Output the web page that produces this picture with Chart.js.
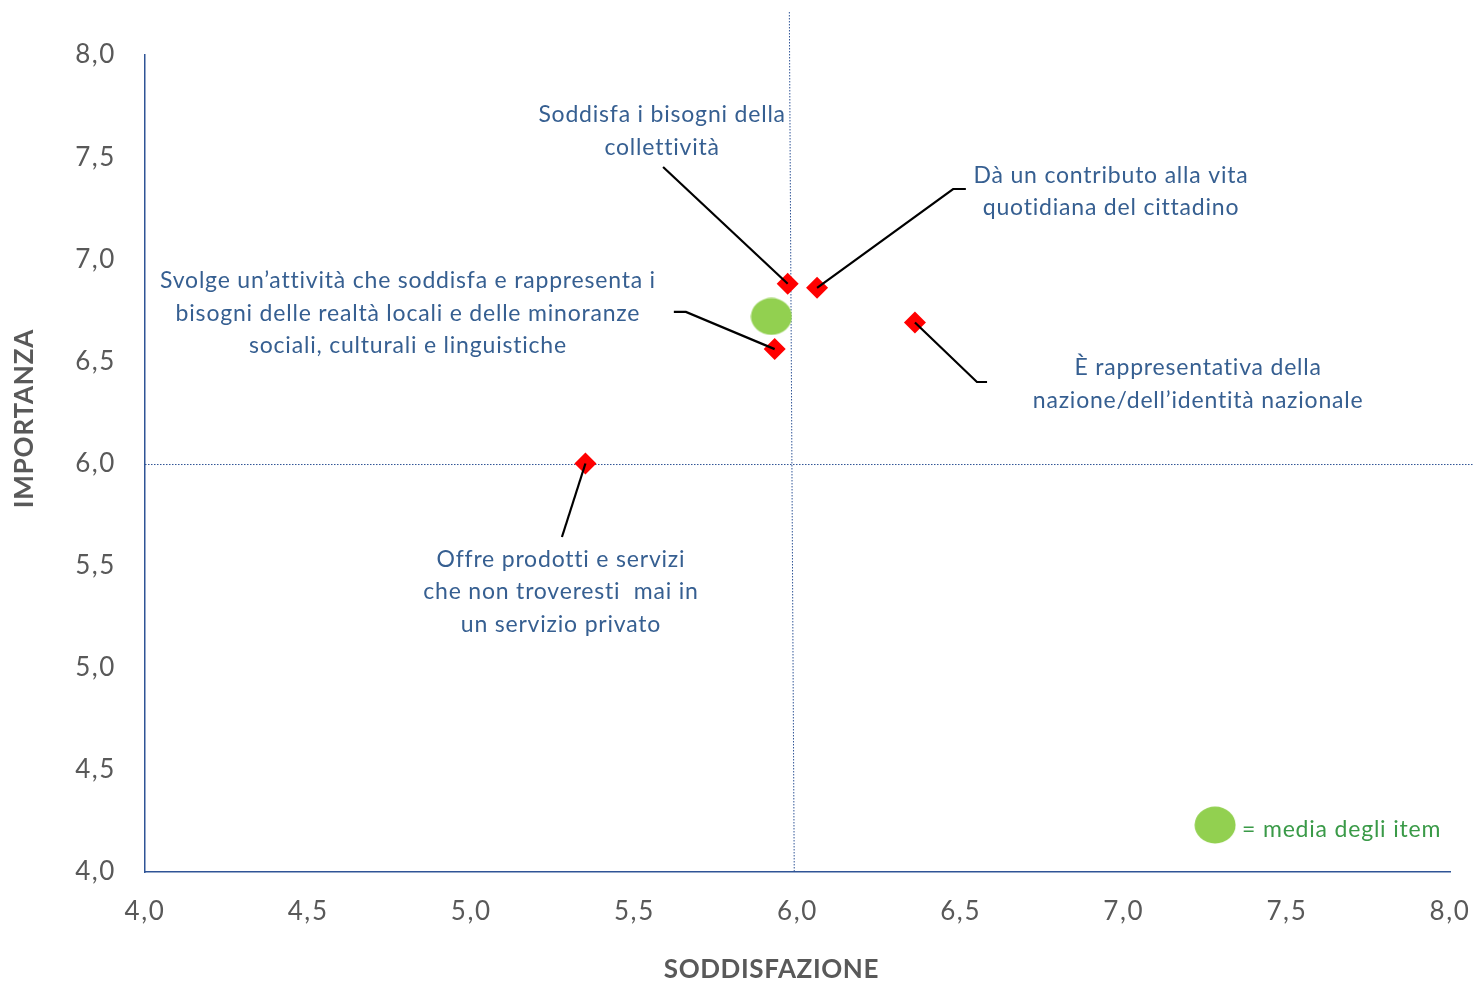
<!DOCTYPE html>
<html>
<head>
<meta charset="utf-8">
<script src="https://cdn.jsdelivr.net/npm/chart.js@4.4.0/dist/chart.umd.min.js"></script>
<style>
  html, body { margin: 0; padding: 0; background: #fff; }
  #wrap { width: 1474px; height: 981px; }
</style>
</head>
<body>
<div id="wrap"><canvas id="chart"></canvas></div>
<script>
// Item labels (one array of lines per item)
const itemLabels = [
  ["Soddisfa i bisogni della", "collettività"],
  ["Dà un contributo alla vita", "quotidiana del cittadino"],
  ["È rappresentativa della", "nazione/dell’identità nazionale"],
  ["Svolge un’attività che soddisfa e rappresenta i", "bisogni delle realtà locali e delle minoranze", "sociali, culturali e linguistiche"],
  ["Offre prodotti e servizi", "che non troveresti  mai in", "un servizio privato"],
];
// values
const soddisfazione = [5.97, 6.06, 6.36, 5.93, 5.35];
const importanza = [6.88, 6.86, 6.69, 6.56, 6.00];
const mediaX = [5.92];
const mediaY = [6.72];
const tickValues = [4.0, 4.5, 5.0, 5.5, 6.0, 6.5, 7.0, 7.5, 8.0];
const refX = 5.99;
const refY = 5.995;

// annotation anchors (data units): label centre / first line, leader elbows
const labelX = [5.585, 6.961, 7.228, 4.806, 5.275];
const labelY = [7.706, 7.412, 6.468, 6.894, 5.532];
const leaderPaths = [
  [[5.588, 7.452]],
  [[6.516, 7.344], [6.477, 7.344]],
  [[6.581, 6.399], [6.550, 6.399]],
  [[5.621, 6.742], [5.658, 6.742]],
  [[5.278, 5.640]],
];

const FONT = "Lato, 'Open Sans', sans-serif";
const BLUE = "#2F5496";
const TEXT_BLUE = "#365F91";
const GRAY = "#595959";

// ellipse marker for the mean
const ell = document.createElement("canvas");
ell.width = 42; ell.height = 38;
const ec = ell.getContext("2d");
ec.fillStyle = "#92D050";
ec.beginPath();
ec.ellipse(21, 19, 20.5, 18.5, 0, 0, Math.PI * 2);
ec.fill();

const fmt = (v) => v.toFixed(1).replace(".", ",");

const overlay = {
  id: "overlay",
  beforeDraw(chart) {
    // wider spacing for the tick labels (Calibri-like width)
    chart.ctx.letterSpacing = "1.6px";
  },
  beforeDatasetsDraw(chart) {
    const { ctx, scales: { x, y } } = chart;
    ctx.save();
    ctx.strokeStyle = BLUE;
    ctx.lineWidth = 1;
    ctx.setLineDash([1.5, 1.5]);
    ctx.beginPath();
    ctx.moveTo(x.getPixelForValue(refX - 0.015), 12);
    ctx.lineTo(x.getPixelForValue(refX), y.getPixelForValue(4));
    ctx.moveTo(x.getPixelForValue(4), y.getPixelForValue(refY));
    ctx.lineTo(chart.width, y.getPixelForValue(refY));
    ctx.stroke();
    ctx.restore();
  },
  afterDatasetsDraw(chart) {
    const { ctx, scales: { x, y } } = chart;
    ctx.save();
    // leader lines
    ctx.strokeStyle = "#000";
    ctx.lineWidth = 2.2;
    leaderPaths.forEach((path, i) => {
      ctx.beginPath();
      ctx.moveTo(x.getPixelForValue(path[0][0]), y.getPixelForValue(path[0][1]));
      path.slice(1).forEach(p => ctx.lineTo(x.getPixelForValue(p[0]), y.getPixelForValue(p[1])));
      ctx.lineTo(x.getPixelForValue(soddisfazione[i]), y.getPixelForValue(importanza[i]));
      ctx.stroke();
    });
    // labels
    ctx.fillStyle = TEXT_BLUE;
    ctx.font = "23px " + FONT;
    ctx.letterSpacing = "0.8px";
    ctx.textAlign = "center";
    ctx.textBaseline = "middle";
    itemLabels.forEach((lines, i) => {
      const px = x.getPixelForValue(labelX[i]);
      const py = y.getPixelForValue(labelY[i]);
      lines.forEach((t, k) => ctx.fillText(t, px, py + k * 32.5));
    });
    // axis titles
    ctx.fillStyle = GRAY;
    ctx.font = "bold 26px " + FONT;
    ctx.letterSpacing = "0.6px";
    ctx.fillText("SODDISFAZIONE", x.getPixelForValue(5.92), 970);
    ctx.save();
    ctx.letterSpacing = "0.8px";
    ctx.translate(25, y.getPixelForValue(6.22));
    ctx.rotate(-Math.PI / 2);
    ctx.fillText("IMPORTANZA", 0, 0);
    ctx.restore();
    // legend
    const lx = x.getPixelForValue(7.28), ly = y.getPixelForValue(4.23);
    ctx.drawImage(ell, lx - 21, ly - 19);
    ctx.fillStyle = "#3A9A48";
    ctx.font = "23px " + FONT;
    ctx.letterSpacing = "0.8px";
    ctx.textAlign = "left";
    ctx.fillText("= media degli item", lx + 27, ly + 5);
    ctx.restore();
  }
};

new Chart(document.getElementById("chart"), {
  type: "scatter",
  data: {
    datasets: [
      {
        label: "media",
        data: mediaX.map((v, i) => ({ x: v, y: mediaY[i] })),
        pointStyle: ell,
        pointRadius: 20,
      },
      {
        label: "item",
        data: soddisfazione.map((v, i) => ({ x: v, y: importanza[i] })),
        pointStyle: "rectRot",
        pointRadius: 11,
        backgroundColor: "#FF0000",
        borderColor: "#FF0000",
        borderWidth: 0,
      },
    ],
  },
  options: {
    responsive: true,
    maintainAspectRatio: false,
    animation: false,
    layout: { padding: { top: 55, right: 24, left: 0, bottom: 0 } },
    plugins: { legend: { display: false }, tooltip: { enabled: false } },
    scales: {
      x: {
        min: 4, max: 8,
        afterBuildTicks: (s) => { s.ticks = tickValues.map(v => ({ value: v })); },
        afterFit: (s) => { s.height = 109; s.paddingLeft = 0; s.paddingRight = 0; },
        grid: { display: false },
        border: { color: BLUE, width: 1.5 },
        ticks: { color: GRAY, font: { family: FONT, size: 26 }, padding: 16, maxRotation: 0, callback: fmt },
      },
      y: {
        min: 4, max: 8,
        afterBuildTicks: (s) => { s.ticks = tickValues.map(v => ({ value: v })); },
        afterFit: (s) => { s.width = 145; s.paddingTop = 0; s.paddingBottom = 0; },
        grid: { display: false },
        border: { color: BLUE, width: 1.5 },
        ticks: { color: GRAY, font: { family: FONT, size: 26 }, padding: 21, callback: fmt },
      },
    },
  },
  plugins: [overlay],
});
</script>
</body>
</html>
